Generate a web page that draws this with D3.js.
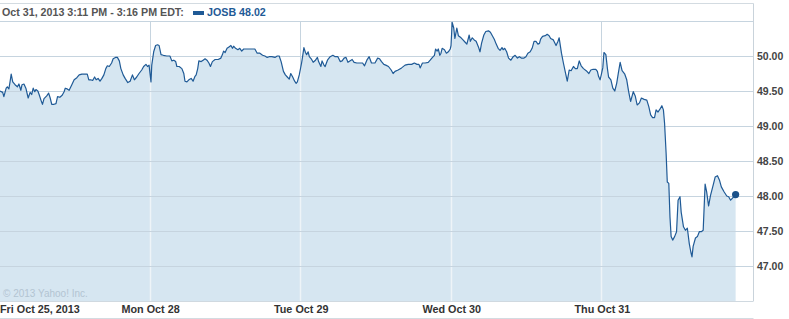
<!DOCTYPE html>
<html><head><meta charset="utf-8">
<script src="https://d3js.org/d3.v7.min.js"></script>
<style>
html,body{margin:0;padding:0;background:#fff;}
svg{display:block;}
text{font-family:"Liberation Sans",Arial,sans-serif;}
</style></head>
<body><svg id="c" width="789" height="319"></svg>
<script>
// trading minutes since Fri Oct 25 09:30 (390 per session)
const minutes = [0,7,10,16,19,23,26,29,33,39,45,49,54,57,62,67,73,78,82,86,90,93,98,102,106,110,114,121,126,130,134,140,145,149,155,161,166,169,174,179,186,192,199,205,212,220,226,230,235,240,245,249,254,259,264,269,274,278,283,289,293,299,304,309,313,319,324,331,337,343,348,354,360,367,372,378,382,386,
391,393,398,403,408,412,417,423,432,440,445,450,455,458,464,471,476,479,484,489,495,500,505,508,512,515,521,526,531,536,541,545,550,557,565,572,576,579,583,588,593,598,602,605,610,616,621,626,631,638,647,654,660,666,673,680,686,692,697,704,712,718,723,728,734,739,744,749,753,758,763,767,770,775,
781,783,787,791,794,798,801,806,811,817,822,825,831,834,839,842,848,855,862,868,875,881,886,891,896,901,906,912,917,924,932,939,944,950,956,962,971,978,983,988,994,999,1006,1013,1018,1023,1031,1040,1049,1057,1066,1073,1080,1085,1088,1094,1101,1109,1114,1120,1125,1128,1132,1135,1139,1142,1145,1151,1156,1161,1166,1168,
1171,1175,1178,1183,1187,1194,1199,1204,1209,1215,1218,1223,1228,1233,1239,1243,1247,1253,1258,1265,1270,1275,1280,1285,1290,1295,1300,1303,1307,1312,1317,1323,1329,1334,1340,1345,1350,1357,1362,1367,1373,1378,1383,1388,1393,1397,1400,1405,1412,1417,1422,1426,1433,1440,1445,1448,1454,1459,1464,1469,1474,1479,1485,1490,1495,1500,1505,1511,1518,1525,1530,1536,1543,1547,1550,1554,1557,
1561,1564,1569,1573,1576,1582,1587,1592,1597,1602,1606,1611,1618,1623,1628,1633,1640,1645,1650,1656,1661,1668,1675,1680,1685,1690,1695,1699,1704,1709,1714,1718,1721,1725,1728,1732,1735,1738,1742,1747,1752,1756,1761,1764,1770,1775,1780,1785,1789,1792,1795,1801,1806,1811,1816,1821,1826,1830,1835,1840,1847,1852,1858,1863,1868,1875,1882,1887,1892,1897,1905];
const prices = [49.50,49.48,49.42,49.54,49.56,49.53,49.63,49.74,49.63,49.59,49.56,49.60,49.51,49.59,49.60,49.54,49.40,49.48,49.45,49.54,49.49,49.52,49.50,49.44,49.37,49.31,49.39,49.43,49.47,49.40,49.31,49.31,49.32,49.42,49.41,49.44,49.49,49.54,49.53,49.51,49.59,49.66,49.69,49.73,49.74,49.74,49.74,49.66,49.66,49.65,49.70,49.66,49.68,49.64,49.68,49.73,49.82,49.86,49.85,49.90,49.96,49.98,49.98,49.93,49.82,49.73,49.68,49.62,49.64,49.73,49.66,49.70,49.75,49.80,49.85,49.88,49.85,49.87,
49.63,49.87,50.06,50.15,50.16,50.15,50.02,50.01,50.00,50.00,49.93,49.94,49.92,49.85,49.85,49.82,49.75,49.64,49.63,49.66,49.68,49.64,49.71,49.73,49.82,49.93,49.92,49.94,49.96,49.94,49.90,49.85,49.92,49.95,49.95,49.97,50.02,50.07,50.05,50.11,50.13,50.15,50.11,50.14,50.11,50.09,50.11,50.07,50.10,50.10,50.10,50.10,50.10,50.04,50.04,50.01,50.00,49.98,49.99,49.99,49.98,50.00,50.00,49.92,49.78,49.73,49.70,49.67,49.75,49.70,49.64,49.61,49.63,49.73,
49.90,49.97,50.12,50.05,50.02,50.06,49.99,49.96,49.91,49.94,49.98,49.92,49.85,49.93,49.87,49.85,49.94,49.99,50.01,49.99,49.99,49.92,49.93,49.97,49.98,49.91,49.93,49.95,49.91,49.90,49.90,49.90,49.86,49.94,49.99,49.90,49.90,49.97,49.96,49.92,49.88,49.87,49.85,49.80,49.75,49.78,49.80,49.83,49.87,49.88,49.88,49.90,49.88,49.88,49.83,49.90,49.90,49.91,49.94,49.98,50.01,50.10,50.07,50.10,50.01,50.04,50.11,50.09,50.04,50.06,50.10,50.15,
50.48,50.40,50.25,50.40,50.29,50.26,50.23,50.20,50.17,50.30,50.21,50.26,50.23,50.21,50.13,50.06,50.18,50.30,50.35,50.36,50.34,50.29,50.24,50.17,50.11,50.08,50.12,50.09,50.11,50.06,49.97,49.94,49.99,50.01,49.97,49.99,49.97,49.97,49.99,50.04,50.06,50.11,50.21,50.21,50.17,50.18,50.24,50.28,50.29,50.31,50.29,50.25,50.23,50.15,50.21,50.26,50.04,49.90,49.77,49.64,49.80,49.79,49.85,49.82,49.82,49.93,49.86,49.82,49.79,49.75,49.80,49.81,49.81,49.78,49.71,49.66,49.73,
49.83,50.05,50.02,49.82,49.70,49.66,49.54,49.50,49.61,49.78,49.91,49.79,49.74,49.66,49.49,49.35,49.49,49.43,49.30,49.33,49.40,49.38,49.37,49.28,49.16,49.12,49.12,49.23,49.20,49.24,49.29,49.23,49.04,48.61,48.20,48.18,47.70,47.42,47.37,47.42,47.49,47.94,47.99,47.77,47.56,47.51,47.54,47.32,47.20,47.13,47.28,47.40,47.42,47.49,47.49,47.51,48.17,48.06,47.86,48.01,48.16,48.27,48.29,48.23,48.13,48.06,48.00,47.99,47.94,47.97,48.02];
const dayStarts = [0,390,780,1170,1560];
const dayLabels = ["Fri Oct 25, 2013","Mon Oct 28","Tue Oct 29","Wed Oct 30","Thu Oct 31"];
const yTicks = [47.00,47.50,48.00,48.50,49.00,49.50,50.00];
const headerText = "Oct 31, 2013 3:11 PM - 3:16 PM EDT:";
const legendText = "JOSB 48.02";
const copyright = "\u00A9 2013 Yahoo! Inc.";

const data = minutes.map((m,i)=>({m, p:prices[i]}));
const svg = d3.select("#c");
const L=0, R=753, T=21, B=301;
const x = d3.scaleLinear().domain([0,1950]).range([L,R]);
const y = d3.scaleLinear().domain([46.5,50.5]).range([B,T]);

const grid = "#c6d4df";
// frame lines
svg.append("line").attr("x1",0).attr("x2",R+0.5).attr("y1",3.5).attr("y2",3.5).attr("stroke","#d3dbe1");
svg.append("line").attr("x1",R+0.5).attr("x2",R+0.5).attr("y1",3.5).attr("y2",B+0.5).attr("stroke","#c9d3db");
svg.append("line").attr("x1",0).attr("x2",R+0.5).attr("y1",318.5).attr("y2",318.5).attr("stroke","#d3dbe1");

// vertical day lines (under fill)
svg.append("g").selectAll("line").data(dayStarts.slice(1)).join("line")
  .attr("x1",d=>Math.round(x(d))-0.5).attr("x2",d=>Math.round(x(d))-0.5)
  .attr("y1",T).attr("y2",B).attr("stroke",grid).attr("stroke-width",1);

// area
const area = d3.area().x(d=>x(d.m)).y0(B).y1(d=>y(d.p));
svg.append("path").datum(data).attr("d",area).attr("fill","#d6e6f1");
svg.append("clipPath").attr("id","ac").append("path").datum(data).attr("d",area);
svg.append("g").attr("clip-path","url(#ac)").selectAll("line").data(dayStarts.slice(1)).join("line")
  .attr("x1",d=>Math.round(x(d))-0.5).attr("x2",d=>Math.round(x(d))-0.5)
  .attr("y1",T).attr("y2",B).attr("stroke","#eef4f8").attr("stroke-width",1.5);

// horizontal gridlines
svg.append("g").selectAll("line").data(yTicks.concat([50.5])).join("line")
  .attr("x1",L).attr("x2",R).attr("y1",d=>Math.round(y(d))+0.5).attr("y2",d=>Math.round(y(d))+0.5)
  .attr("stroke",grid);
svg.append("line").attr("x1",L).attr("x2",R).attr("y1",B+0.5).attr("y2",B+0.5).attr("stroke","#d0d9e0");

// price line
const line = d3.line().x(d=>x(d.m)).y(d=>y(d.p));
svg.append("path").datum(data).attr("d",line).attr("fill","none").attr("stroke","#1f5a96").attr("stroke-width",1.2).attr("stroke-linejoin","round");
const last = data[data.length-1];
svg.append("circle").attr("cx",x(last.m)).attr("cy",y(last.p)).attr("r",3.6).attr("fill","#1b5189");

// y axis labels
const yAxis = d3.axisRight(y).tickValues(yTicks).tickFormat(d3.format(".2f")).tickSize(0).tickPadding(4);
const ya = svg.append("g").attr("transform",`translate(${R},0)`).call(yAxis);
ya.select(".domain").remove();
ya.selectAll("text").attr("font-family","'Liberation Sans',Arial,sans-serif").attr("font-size","10.5px").attr("font-weight","bold").attr("fill","#444");

// x axis labels
svg.append("g").selectAll("text").data(dayStarts).join("text")
  .attr("x",(d,i)=> i===0 ? 0 : x(d))
  .attr("y",313)
  .attr("text-anchor",(d,i)=> i===0 ? "start" : "middle")
  .attr("font-size","10.8px").attr("font-weight","bold").attr("fill","#333")
  .text((d,i)=>dayLabels[i]);

// header
svg.append("text").attr("x",2).attr("y",16).attr("font-size","10.7px").attr("font-weight","bold").attr("fill","#555").text(headerText);
svg.append("rect").attr("x",193).attr("y",11).attr("width",11).attr("height",4).attr("fill","#1f5a96");
svg.append("text").attr("x",207).attr("y",16).attr("font-size","10.7px").attr("font-weight","bold").attr("fill","#1f5a96").text(legendText);

// copyright
svg.append("text").attr("x",3).attr("y",297).attr("font-size","10px").attr("fill","#b3c4d2").text(copyright);
</script></body></html>
